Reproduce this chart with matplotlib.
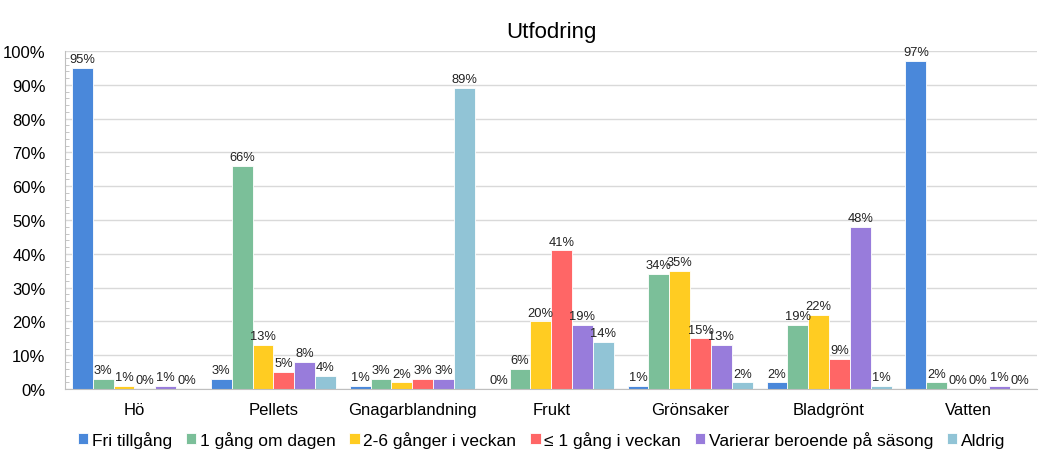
import matplotlib
matplotlib.use('Agg')
import matplotlib.pyplot as plt
import numpy as np
from matplotlib.ticker import MultipleLocator, PercentFormatter

plt.rcParams['font.family'] = ['Liberation Sans', 'DejaVu Sans']

categories = ['Hö', 'Pellets', 'Gnagarblandning', 'Frukt', 'Grönsaker', 'Bladgrönt', 'Vatten']
series_names = ['Fri tillgång', '1 gång om dagen', '2-6 gånger i veckan',
                '≤ 1 gång i veckan', 'Varierar beroende på säsong', 'Aldrig']
fri = [95, 3, 1, 0, 1, 2, 97]
en_gang = [3, 66, 3, 6, 34, 19, 2]
tva_sex = [1, 13, 2, 20, 35, 22, 0]
max_en = [0, 5, 3, 41, 15, 9, 0]
varierar = [1, 8, 3, 19, 13, 48, 1]
aldrig = [0, 4, 89, 14, 2, 1, 0]
colors = ['#4A88DA', '#7BBF99', '#FFCC22', '#FF6666', '#987CDB', '#91C4D6']

values = [fri, en_gang, tva_sex, max_en, varierar, aldrig]

fig = plt.figure(figsize=(10.4, 4.52), dpi=100)
ax = fig.add_axes([0.0625, 0.137, 0.935, 0.748])

x = np.arange(len(categories))
w = 0.15
for i, (name, vals) in enumerate(zip(series_names, values)):
    pos = x + (i - 2.5) * w
    bars = ax.bar(pos, vals, width=w, color=colors[i], edgecolor='white', linewidth=0.6, label=name)
    for b, v in zip(bars, vals):
        ax.text(b.get_x() + b.get_width() / 2, v + 0.8, f'{v}%', ha='center', va='bottom',
                fontsize=9.3, color='#222222')

ax.set_xlim(-0.5, len(categories) - 0.5)
ax.set_ylim(0, 100)
ax.yaxis.set_major_locator(MultipleLocator(10))
ax.yaxis.set_minor_locator(MultipleLocator(2))
ax.yaxis.set_major_formatter(PercentFormatter(decimals=0))
ax.set_xticks(x)
ax.set_xticklabels(categories, fontsize=12)
ax.tick_params(axis='y', labelsize=12, length=0, pad=14)
ax.tick_params(axis='y', which='minor', length=3, color='#bbbbbb', direction='in')
ax.tick_params(axis='x', length=0, pad=9)
ax.grid(axis='y', color='#d9d9d9', linewidth=1)
ax.set_axisbelow(True)
for s in ['top', 'right']:
    ax.spines[s].set_visible(False)
ax.spines['left'].set_color('#bfbfbf')
ax.spines['bottom'].set_color('#bfbfbf')

ax.set_title('Utfodring', fontsize=16, pad=10)
ax.legend(loc='center', bbox_to_anchor=(0.49, -0.148), ncol=6, frameon=False,
          fontsize=12.5, handlelength=0.6, handleheight=0.6, handletextpad=0.2,
          columnspacing=0.8, borderpad=0)

fig.savefig('out.png', dpi=100)
